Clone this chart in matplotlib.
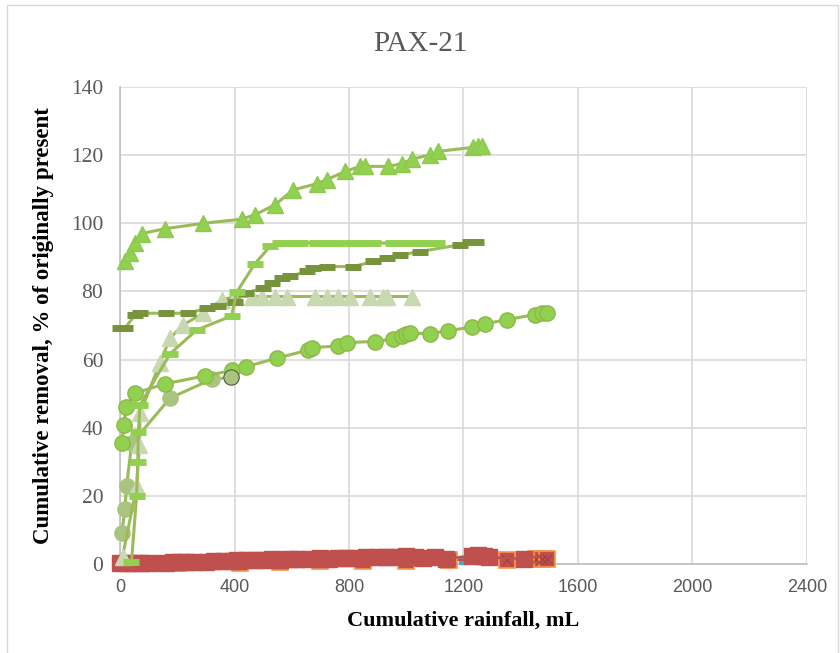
import matplotlib

matplotlib.use("Agg")
import matplotlib.pyplot as plt
from matplotlib.patches import Rectangle

# cumulative removal (% of originally present) vs cumulative rainfall (mL)
tri_hi_x = [17, 35, 52, 76, 157, 291, 425, 471, 541, 605, 687, 722, 786, 838, 856,
            937, 984, 1019, 1083, 1112, 1234, 1250, 1263]
tri_hi_y = [88.8, 91.3, 94.2, 97.0, 98.4, 100.0, 101.2, 102.5, 105.4, 109.8, 111.6,
            112.8, 115.2, 116.7, 116.7, 116.7, 117.5, 118.8, 120.1, 121.1, 122.3,
            122.7, 122.7]

dash_hi_x = [40, 58, 62, 64, 70, 175, 268, 390, 407, 471, 524, 559, 594, 629, 687,
             722, 757, 815, 850, 885, 955, 990, 1036, 1071, 1106]
dash_hi_y = [0.5, 20.0, 29.9, 38.6, 46.7, 61.7, 68.7, 72.8, 79.7, 88.1, 93.2, 94.2,
             94.2, 94.2, 94.2, 94.2, 94.2, 94.2, 94.2, 94.2, 94.2, 94.2, 94.2, 94.2,
             94.2]

dash_dk_x = [0, 17, 52, 70, 160, 239, 303, 343, 400, 440, 500, 530, 565, 594, 652,
             675, 722, 815, 885, 932, 978, 1048, 1188, 1223, 1245]
dash_dk_y = [69.2, 69.2, 73.0, 73.6, 73.6, 73.6, 75.1, 75.6, 77.0, 79.5, 81.0, 82.5,
             83.9, 84.4, 85.9, 86.8, 87.3, 87.3, 88.8, 89.8, 90.7, 91.7, 93.7, 94.5,
             94.5]

tri_lo_x = [9, 58, 68, 70, 140, 175, 221, 291, 355, 402, 460, 495, 541, 582, 681,
            722, 763, 803, 873, 920, 932, 1019]
tri_lo_y = [2.2, 22.7, 35.0, 44.2, 59.1, 66.3, 70.2, 73.6, 77.5, 78.5, 78.5, 78.5,
            78.5, 78.5, 78.5, 78.5, 78.5, 78.5, 78.5, 78.5, 78.5, 78.5]

circ_hi_x = [6, 14, 21, 52, 157, 297, 390, 440, 547, 658, 669, 763, 792, 891, 952,
             984, 1000, 1013, 1083, 1147, 1228, 1275, 1351, 1449, 1473, 1490]
circ_hi_y = [35.6, 40.8, 46.2, 50.1, 52.9, 55.2, 56.8, 57.9, 60.4, 62.8, 63.5, 64.0,
             65.0, 65.3, 66.0, 67.0, 67.4, 67.8, 67.6, 68.5, 69.5, 70.5, 71.7, 73.2,
             73.6, 73.6]

circ_lo_x = [6, 17, 23, 41, 175, 320, 387]
circ_lo_y = [9.0, 16.0, 22.9, 35.4, 48.7, 54.2, 54.8]

red_x = [0, 25, 50, 75, 100, 160, 185, 210, 235, 260, 300, 330, 360, 390, 410, 440,
         470, 500, 530, 560, 590, 620, 660, 700, 730, 760, 790, 820, 860, 900, 930,
         960, 1000, 1030, 1060, 1100, 1140, 1230, 1250, 1270, 1290, 1410]
red_y = [0.2, 0.2, 0.3, 0.2, 0.3, 0.4, 0.5, 0.5, 0.6, 0.6, 0.6, 0.8, 0.9, 1.0, 1.1,
         1.1, 1.3, 1.2, 1.4, 1.3, 1.5, 1.4, 1.6, 1.7, 1.6, 1.8, 1.9, 1.8, 2.0, 2.1,
         2.2, 2.0, 2.4, 2.1, 1.8, 2.0, 1.6, 2.4, 2.5, 2.3, 2.0, 1.5]

org_x = [200, 420, 560, 700, 850, 1000, 1150, 1351, 1455, 1473, 1490]
org_y = [0.2, 0.4, 0.6, 0.8, 1.0, 1.0, 1.2, 1.3, 1.4, 1.4, 1.4]

blue_x = [0, 120, 250, 400, 500, 622, 700, 838, 900, 978, 1059, 1076, 1111, 1118,
          1200, 1250]
blue_y = [0.6, 0.7, 0.9, 1.0, 1.1, 0.4, 1.1, 0.7, 1.2, 1.0, 1.2, 1.0, 1.0, 1.1, 1.3,
          1.3]

LINE = "#9BBB59"

fig = plt.figure(figsize=(8.4, 6.53), dpi=100)
fig.patches.append(Rectangle((7 / 840, -0.01), 831 / 840, 1 - 5 / 653 + 0.01,
                             transform=fig.transFigure, fill=False,
                             edgecolor="#D9D9D9", linewidth=1.0))
ax = fig.add_axes([120 / 840, 89 / 653, 687 / 840, 477 / 653])

# low-removal series sitting on the x axis
ax.plot(blue_x, blue_y, color="#4F81BD", lw=1.8, marker="s", ms=6,
        mfc="#4BACC6", mec="#4BACC6", zorder=3, clip_on=False)
ax.plot(org_x, org_y, color="#C0504D", lw=1.8, marker="s", ms=11,
        mfc="#C0504D", mec="#F79646", mew=1.2, zorder=3, clip_on=False)
ax.plot(org_x, org_y, ls="none", marker="x", ms=7, mec="#A0403D", mew=0.8,
        zorder=4, clip_on=False)
ax.plot(red_x, red_y, color="#C0504D", lw=1.8, marker="s", ms=11,
        mfc="#C0504D", mec="#C0504D", zorder=4, clip_on=False)

ax.plot(circ_lo_x, circ_lo_y, color=LINE, lw=2.2, marker="o", ms=11,
        mfc="#A9C47F", mec="#A9C47F", zorder=5, clip_on=False)
ax.plot(circ_lo_x[-1:], circ_lo_y[-1:], ls="none", marker="o", ms=11,
        mfc="#A9C47F", mec="#404040", mew=0.6, zorder=6)
ax.plot(circ_hi_x, circ_hi_y, color=LINE, lw=2.2, marker="o", ms=11,
        mfc="#92D050", mec="#8DB848", zorder=5, clip_on=False)
ax.plot(tri_lo_x, tri_lo_y, color=LINE, lw=2.2, marker="^", ms=11,
        mfc="#C8D9B2", mec="#C8D9B2", zorder=5, clip_on=False)
ax.plot(dash_dk_x, dash_dk_y, color=LINE, lw=2.2, marker="_", ms=11, mew=5,
        mec="#77933C", zorder=5, clip_on=False)
ax.plot(dash_hi_x, dash_hi_y, color=LINE, lw=2.2, marker="_", ms=11, mew=5,
        mec="#92D050", zorder=5, clip_on=False)
ax.plot(tri_hi_x, tri_hi_y, color=LINE, lw=2.2, marker="^", ms=12,
        mfc="#92D050", mec="#8DC850", zorder=5, clip_on=False)

ax.set_xlim(0, 2400)
ax.set_ylim(0, 140)
ax.set_xticks(range(0, 2401, 400))
ax.set_yticks(range(0, 141, 20))
ax.grid(True, color="#D9D9D9", lw=1.2)
ax.set_axisbelow(True)
for side in ("top", "right"):
    ax.spines[side].set_visible(False)
for side in ("left", "bottom"):
    ax.spines[side].set_color("#BFBFBF")
    ax.spines[side].set_linewidth(1.2)
ax.tick_params(axis="y", length=0, pad=12, colors="#595959")
ax.tick_params(axis="x", length=0, pad=11, colors="#595959")
for lbl in ax.get_yticklabels():
    lbl.set_fontfamily("Liberation Serif")
    lbl.set_fontsize(15.5)
for lbl in ax.get_xticklabels():
    lbl.set_fontfamily("Liberation Sans")
    lbl.set_fontsize(13)

ax.set_xlabel("Cumulative rainfall, mL", fontfamily="Liberation Serif",
              fontweight="bold", fontsize=16, labelpad=10)
ax.set_ylabel("Cumulative removal, % of originally present",
              fontfamily="Liberation Serif", fontweight="bold", fontsize=16.5,
              labelpad=12)
fig.text(0.5, 1 - 44 / 653, "PAX-21", ha="center", va="center",
         fontfamily="Liberation Serif", fontsize=21, color="#595959")

fig.savefig("out.png", dpi=100)
